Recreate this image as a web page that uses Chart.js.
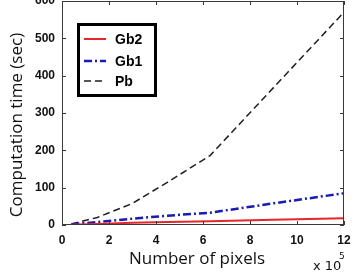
<!DOCTYPE html>
<html>
<head>
<meta charset="utf-8">
<script src="https://cdn.jsdelivr.net/npm/chart.js@4.4.1/dist/chart.umd.min.js"></script>
<style>
html,body{margin:0;padding:0;background:#fff;}
#wrap{width:359px;height:275px;position:relative;}
</style>
</head>
<body>
<div id="wrap"><canvas id="c" width="359" height="275"></canvas></div>
<script>
const xValues = [0.4, 1.5, 3.0, 4.5, 6.3, 9.0, 12.0];
const gb2 = [1, 3, 6, 8, 10, 14, 18];
const gb1 = [2, 8, 17, 25, 33, 58, 85];
const pb = [3, 20, 58, 115, 186, 368, 570];
const seriesNames = ['Gb2', 'Gb1', 'Pb'];
const xTicks = [0, 2, 4, 6, 8, 10, 12];
const yTicks = [0, 100, 200, 300, 400, 500, 600];
const xTitle = 'Number of pixels';
const yTitle = 'Computation time (sec)';

const toPts = arr => arr.map((v, i) => ({x: xValues[i], y: v}));
const titleFont = '17px "Open Sans", "DejaVu Sans", sans-serif';

const frame = {
  id: 'frame',
  afterDatasetsDraw(chart) {
    const {ctx, chartArea: a, scales: {x, y}} = chart;
    ctx.save();
    ctx.strokeStyle = '#3a3a3a';
    ctx.lineWidth = 1;
    ctx.beginPath();
    xTicks.forEach(t => {
      const px = Math.round(x.getPixelForValue(t)) + 0.5;
      ctx.moveTo(px, a.bottom); ctx.lineTo(px, a.bottom - 4);
      ctx.moveTo(px, a.top); ctx.lineTo(px, a.top + 4);
    });
    yTicks.forEach(t => {
      const py = Math.round(y.getPixelForValue(t)) + 0.5;
      ctx.moveTo(a.left, py); ctx.lineTo(a.left + 4, py);
      ctx.moveTo(a.right, py); ctx.lineTo(a.right - 4, py);
    });
    ctx.stroke();
    ctx.strokeRect(Math.round(a.left) + 0.5, Math.round(a.top) + 0.5,
      Math.round(a.right - a.left) - 1, Math.round(a.bottom - a.top) - 1);

    // legend
    const lx = 77, ly = 23, lw = 80, lh = 74;
    ctx.fillStyle = '#fff';
    ctx.fillRect(lx, ly, lw, lh);
    ctx.strokeStyle = '#000';
    ctx.lineWidth = 3;
    ctx.strokeRect(lx + 1.5, ly + 1.5, lw - 3, lh - 3);
    const rows = [39, 61, 81];
    chart.data.datasets.forEach((ds, i) => {
      ctx.save();
      ctx.strokeStyle = ds.borderColor;
      ctx.lineWidth = ds.borderWidth;
      ctx.setLineDash(ds.borderDash || []);
      ctx.beginPath();
      ctx.moveTo(84, rows[i]); ctx.lineTo(106, rows[i]);
      ctx.stroke();
      ctx.restore();
      ctx.fillStyle = '#000';
      ctx.font = 'bold 14px "Liberation Sans", Arial, sans-serif';
      ctx.textBaseline = 'middle';
      ctx.textAlign = 'left';
      ctx.fillText(ds.label, 115, rows[i] + 1);
    });

    // axis titles
    ctx.fillStyle = '#111';
    ctx.font = titleFont;
    ctx.textAlign = 'center';
    ctx.textBaseline = 'middle';
    ctx.fillText(xTitle, 197, 259);
    ctx.save();
    ctx.translate(17, 125);
    ctx.rotate(-Math.PI / 2);
    ctx.fillText(yTitle, 0, 0);
    ctx.restore();

    // exponent
    ctx.textAlign = 'left';
    ctx.font = '13px "DejaVu Sans", sans-serif';
    ctx.textBaseline = 'alphabetic';
    ctx.fillText('x 10', 313, 270);
    ctx.font = '9px "DejaVu Sans", sans-serif';
    ctx.fillText('5', 339, 259);
    ctx.restore();
  }
};

new Chart(document.getElementById('c'), {
  type: 'line',
  data: {
    datasets: [
      {label: seriesNames[0], data: toPts(gb2), borderColor: '#e3262a', borderWidth: 2, pointRadius: 0, fill: false, tension: 0},
      {label: seriesNames[1], data: toPts(gb1), borderColor: '#1a1ab4', borderWidth: 2.5, borderDash: [8, 3, 2, 3], pointRadius: 0, fill: false, tension: 0},
      {label: seriesNames[2], data: toPts(pb), borderColor: '#1e1e1e', borderWidth: 1.5, borderDash: [7, 4], pointRadius: 0, fill: false, tension: 0}
    ]
  },
  options: {
    responsive: false,
    animation: false,
    events: [],
    layout: {padding: {top: 1, right: 15, bottom: 0, left: 0}},
    plugins: {legend: {display: false}, tooltip: {enabled: false}},
    scales: {
      x: {
        type: 'linear', min: 0, max: 12,
        afterBuildTicks: s => { s.ticks = xTicks.map(v => ({value: v})); },
        afterFit: s => { s.height = 50; },
        grid: {display: false, drawTicks: false},
        border: {display: false},
        ticks: {color: '#111', font: {family: '"Liberation Sans", Arial, sans-serif', size: 12, weight: 'bold'}, padding: 8, maxRotation: 0},
        title: {display: false}
      },
      y: {
        type: 'linear', min: 0, max: 600,
        afterBuildTicks: s => { s.ticks = yTicks.map(v => ({value: v})); },
        afterFit: s => { s.width = 62; s.paddingTop = 0; },
        grid: {display: false, drawTicks: false},
        border: {display: false},
        ticks: {color: '#111', font: {family: '"Liberation Sans", Arial, sans-serif', size: 12, weight: 'bold'}, padding: 7},
        title: {display: false}
      }
    }
  },
  plugins: [frame]
});
</script>
</body>
</html>
